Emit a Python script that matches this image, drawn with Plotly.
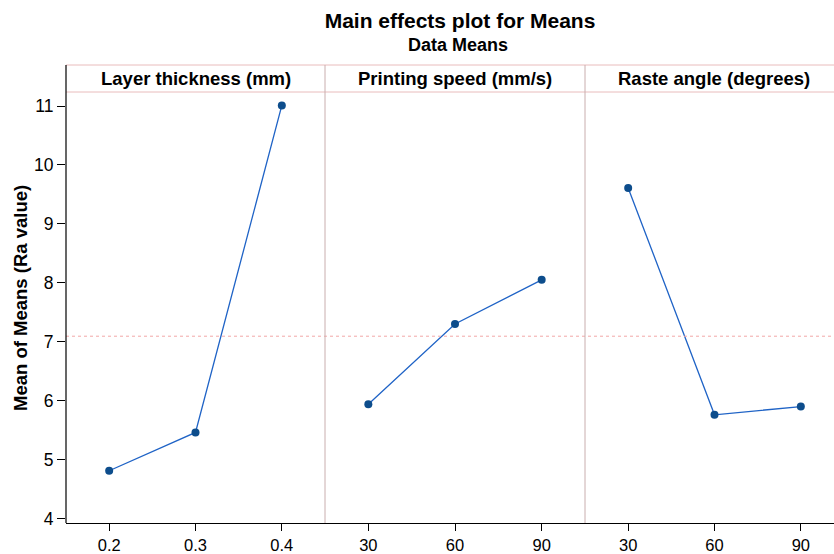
import plotly.graph_objects as go

# ---- data ----
factors = ["Layer thickness (mm)", "Printing speed (mm/s)", "Raste angle (degrees)"]
layer_levels = ["0.2", "0.3", "0.4"]
layer_means = [4.81, 5.46, 11.01]
speed_levels = ["30", "60", "90"]
speed_means = [5.94, 7.30, 8.05]
angle_levels = ["30", "60", "90"]
angle_means = [9.61, 5.76, 5.90]
y_ticks = [4, 5, 6, 7, 8, 9, 10, 11]

all_vals = layer_means + speed_means + angle_means
grand_mean = sum(all_vals) / len(all_vals)

FONT = "Liberation Sans, Arial"
line_col = "#1f63c6"
marker_col = "#0d4d8c"

W, H = 834, 554
L, R, T, B = 66, 0, 65, 31
pw = W - L - R
ph = H - T - B
d1 = (325 - L) / pw
d2 = (585 - L) / pw
strip_bot = (523 - 92) / ph
spacing = (325 - L) / 3.0


def px_x(px):
    return (px - L) / pw


def px_y(py):
    return (H - B - py) / ph


fig = go.Figure()
panels = [(layer_levels, layer_means, "x", "xaxis"),
          (speed_levels, speed_means, "x2", "xaxis2"),
          (angle_levels, angle_means, "x3", "xaxis3")]
for levels, means, xa, _ in panels:
    fig.add_trace(go.Scatter(
        x=list(range(len(levels))), y=means, xaxis=xa, yaxis="y",
        mode="lines+markers",
        line=dict(color=line_col, width=1.3),
        marker=dict(color=marker_col, size=8),
        showlegend=False, hoverinfo="skip"))

domains = [[0, d1], [d1, d2], [d2, 1]]
ranges = [[-0.5, 2.5], [-0.5, 2.5], [-0.5, -0.5 + (W - 585) / spacing]]
for i, (levels, means, xa, key) in enumerate(panels):
    fig.layout[key] = dict(
        domain=domains[i], anchor="y", range=ranges[i], automargin=False,
        tickmode="array", tickvals=list(range(len(levels))), ticktext=levels,
        ticks="outside", ticklen=7, tickcolor="black", tickwidth=1,
        showline=True, linecolor="black", linewidth=1.2,
        showgrid=False, zeroline=False,
        tickfont=dict(family=FONT, size=16.5, color="black"),
    )

fig.update_layout(
    width=W, height=H,
    margin=dict(l=L, r=R, t=T, b=B, autoexpand=False),
    paper_bgcolor="white", plot_bgcolor="white",
    yaxis=dict(domain=[0, strip_bot], anchor="x", automargin=False,
               range=[4 - 4.5 / 58.93, 11 + 14 / 58.93],
               tickmode="array", tickvals=y_ticks,
               ticks="outside", ticklen=8, tickcolor="black",
               showline=False, showgrid=False, zeroline=False,
               tickfont=dict(family=FONT, size=17.5, color="black")),
    title=dict(text="<b>Main effects plot for Means</b>",
               x=460 / W, xanchor="center",
               y=1 - 21 / H, yanchor="middle", yref="container",
               font=dict(family=FONT, size=21, color="black")),
)

shapes = []
# mean reference line
shapes.append(dict(type="line", xref="paper", yref="y", x0=0, x1=1,
                   y0=grand_mean, y1=grand_mean,
                   line=dict(color="#f2a8a8", width=1, dash="dot")))
# strip lines
for yy in [1, strip_bot]:
    shapes.append(dict(type="line", xref="paper", yref="paper", x0=0, x1=1,
                       y0=yy, y1=yy, line=dict(color="#e9bcbc", width=1)))
# dividers
for xx in [d1, d2]:
    shapes.append(dict(type="line", xref="paper", yref="paper", x0=xx, x1=xx,
                       y0=0, y1=1, line=dict(color="#c9aeae", width=1)))
# left axis line
shapes.append(dict(type="line", xref="paper", yref="paper", x0=0, x1=0,
                   y0=0, y1=1, line=dict(color="black", width=1.2)))
fig.update_layout(shapes=shapes)

annotations = []
centers = [px_x(L + 1.5 * spacing), px_x(325 + 1.5 * spacing), px_x(714)]
for c, name in zip(centers, factors):
    annotations.append(dict(text="<b>" + name + "</b>", xref="paper", yref="paper",
                            x=c, y=(1 + strip_bot) / 2, xanchor="center", yanchor="middle",
                            showarrow=False,
                            font=dict(family=FONT, size=18.5, color="black")))
annotations.append(dict(text="<b>Data Means</b>", xref="paper", yref="paper",
                        x=px_x(458), y=px_y(45),
                        xanchor="center", yanchor="middle", showarrow=False,
                        font=dict(family=FONT, size=18, color="black")))
annotations.append(dict(text="<b>Mean of Means (Ra value)</b>", xref="paper", yref="paper",
                        x=px_x(20), y=px_y(298), textangle=-90,
                        xanchor="center", yanchor="middle", showarrow=False,
                        font=dict(family=FONT, size=18.5, color="black")))
fig.update_layout(annotations=annotations)

fig.write_html("out.html", config={"displayModeBar": False},
               post_script="document.body.style.margin='0';document.body.style.overflow='hidden';")
